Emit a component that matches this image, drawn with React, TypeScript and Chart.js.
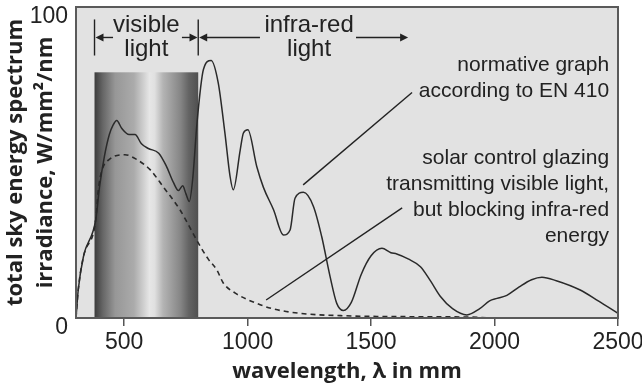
import React, { useEffect, useRef } from 'react';
import { Chart, registerables } from 'chart.js';

Chart.register(...registerables);

// ---- data ----
const WAVELENGTH_STANDARD = [305, 314, 335, 385, 400, 420, 440, 455, 470, 490, 520, 544, 570, 598, 640, 670, 700, 720, 737, 750, 764, 778, 795, 821, 852, 881, 908, 929, 942, 970, 983, 1001, 1037, 1064, 1105, 1145, 1172, 1192, 1226, 1267, 1300, 1334, 1361, 1388, 1420, 1460, 1500, 1544, 1580, 1604, 1650, 1700, 1740, 1780, 1830, 1888, 1940, 1980, 2010, 2050, 2100, 2150, 2192, 2250, 2347, 2420, 2500];
const IRRADIANCE_STANDARD = [0, 9, 19.7, 31.6, 42, 52, 59, 62, 63.5, 61, 59, 59, 56, 54.5, 53, 49, 43.5, 41, 42.5, 40, 37.5, 45, 62.7, 79.9, 82.8, 75.6, 59.5, 45.5, 41.2, 54, 59.5, 60.5, 48.7, 42, 34.8, 26.7, 28.3, 38.5, 40.4, 35.8, 26.2, 13.3, 4.7, 2.4, 5, 14, 20, 22.4, 21, 20.6, 19, 16.5, 12, 7, 3, 1, 3, 5.5, 6.3, 7.3, 10, 12.3, 13.1, 12, 9, 5.5, 1.5];

const WAVELENGTH_GLAZING = [305, 314, 335, 385, 395, 410, 440, 503, 550, 605, 660, 726, 760, 794, 840, 875, 902, 950, 1037, 1100, 1213, 1400, 1700, 1900, 2000, 2500];
const IRRADIANCE_GLAZING = [0, 9, 19.7, 31.6, 41, 47.5, 51, 52.5, 51, 47.7, 42, 34.8, 30, 25, 19, 15.5, 11.2, 8, 4.7, 3, 1.5, 0.7, 0.4, 0.3, 0, 0];

const X_MIN = 305;
const X_MAX = 2500;
const X_TICKS = [500, 1000, 1500, 2000, 2500];
const Y_TICKS = [0, 100];

const VISIBLE_BAND = [380, 800];
const VISIBLE_BAND_TOP = 79;

const Y_TITLE = ['total sky energy spectrum', 'irradiance, W/mm²/nm'];
const X_TITLE = 'wavelength, λ in mm';

const BAND_LABELS = [
  { text: 'visible', x: 590, y: 92.1 },
  { text: 'light', x: 590, y: 84.1 },
  { text: 'infra-red', x: 1249, y: 92.1 },
  { text: 'light', x: 1249, y: 84.1 },
];
const BAND_BARS = [380, 800];
const BAND_BAR_RANGE = [84.4, 96];
const BAND_ARROW_Y = 90.2;
// [from, to(tip)]
const BAND_ARROWS = [
  [455, 384],
  [734, 797],
  [1050, 804],
  [1439, 1650],
];

const NOTE_X = 2464;
const NOTES = [
  { text: 'normative graph', y: 79.4 },
  { text: 'according to EN 410', y: 71.0 },
  { text: 'solar control glazing', y: 49.6 },
  { text: 'transmitting visible light,', y: 41.2 },
  { text: 'but blocking infra-red', y: 32.9 },
  { text: 'energy', y: 24.5 },
];
const LEADERS = [
  [1666, 72.5, 1225, 42.8],
  [1626, 35.4, 1075, 5.8],
];

const INK = '#222';

const decor = {
  id: 'decor',
  beforeDraw(chart: any) {
    const { ctx, chartArea: a } = chart;
    ctx.save();
    ctx.fillStyle = '#e2e2e2';
    ctx.fillRect(a.left, a.top, a.right - a.left, a.bottom - a.top);
    ctx.restore();
  },
  beforeDatasetsDraw(chart: any) {
    const { ctx } = chart;
    const xs = chart.scales.x;
    const ys = chart.scales.y;
    const x0 = xs.getPixelForValue(VISIBLE_BAND[0]);
    const x1 = xs.getPixelForValue(VISIBLE_BAND[1]);
    const yt = ys.getPixelForValue(VISIBLE_BAND_TOP);
    const yb = ys.getPixelForValue(0);
    const g = ctx.createLinearGradient(x0, 0, x1, 0);
    const stops: [number, string][] = [
      [0, '#3c3c3c'],
      [0.08, '#666'],
      [0.2, '#979797'],
      [0.3, '#a2a2a2'],
      [0.38, '#ababab'],
      [0.46, '#cacaca'],
      [0.53, '#e6e6e6'],
      [0.58, '#e0e0e0'],
      [0.66, '#b4b4b4'],
      [0.74, '#9e9e9e'],
      [0.83, '#858585'],
      [0.91, '#636363'],
      [1, '#505050'],
    ];
    stops.forEach(([o, c]) => g.addColorStop(o, c));
    ctx.save();
    ctx.fillStyle = g;
    ctx.fillRect(x0, yt, x1 - x0, yb - yt);
    ctx.restore();
  },
  afterDatasetsDraw(chart: any) {
    const { ctx, chartArea: a } = chart;
    const xs = chart.scales.x;
    const ys = chart.scales.y;
    const px = (v: number) => xs.getPixelForValue(v);
    const py = (v: number) => ys.getPixelForValue(v);
    ctx.save();
    // plot border
    ctx.strokeStyle = '#5a5a5a';
    ctx.lineWidth = 2;
    ctx.strokeRect(a.left, a.top, a.right - a.left, a.bottom - a.top);

    ctx.strokeStyle = INK;
    ctx.fillStyle = INK;
    ctx.lineWidth = 1.4;
    // band bars
    BAND_BARS.forEach((b) => {
      ctx.beginPath();
      ctx.moveTo(px(b), py(BAND_BAR_RANGE[0]));
      ctx.lineTo(px(b), py(BAND_BAR_RANGE[1]));
      ctx.stroke();
    });
    // arrows
    const ay = py(BAND_ARROW_Y);
    BAND_ARROWS.forEach(([from, tip]) => {
      const fx = px(from);
      const tx = px(tip);
      const dir = tx > fx ? 1 : -1;
      ctx.beginPath();
      ctx.moveTo(fx, ay);
      ctx.lineTo(tx - dir * 6, ay);
      ctx.stroke();
      ctx.beginPath();
      ctx.moveTo(tx, ay);
      ctx.lineTo(tx - dir * 8, ay - 4);
      ctx.lineTo(tx - dir * 8, ay + 4);
      ctx.closePath();
      ctx.fill();
    });
    // band labels
    ctx.font = '24px "Liberation Sans", Arial, sans-serif';
    ctx.textAlign = 'center';
    ctx.textBaseline = 'alphabetic';
    BAND_LABELS.forEach((l) => ctx.fillText(l.text, px(l.x), py(l.y)));
    // notes
    ctx.font = '21px "Liberation Sans", Arial, sans-serif';
    ctx.textAlign = 'right';
    NOTES.forEach((n) => ctx.fillText(n.text, px(NOTE_X), py(n.y)));
    // leader lines
    ctx.lineWidth = 1.4;
    LEADERS.forEach(([x1, y1, x2, y2]) => {
      ctx.beginPath();
      ctx.moveTo(px(x1), py(y1));
      ctx.lineTo(px(x2), py(y2));
      ctx.stroke();
    });
    ctx.restore();
  },
};

export default function App() {
  const ref = useRef<HTMLCanvasElement | null>(null);
  useEffect(() => {
    if (!ref.current) return;
    const chart = new Chart(ref.current, {
      type: 'line',
      data: {
        datasets: [
          {
            label: 'normative graph according to EN 410',
            data: WAVELENGTH_STANDARD.map((w, i) => ({ x: w, y: IRRADIANCE_STANDARD[i] })),
            borderColor: '#2a2a2a',
            borderWidth: 1.5,
            pointRadius: 0,
            cubicInterpolationMode: 'monotone',
            fill: false,
          },
          {
            label: 'solar control glazing',
            data: WAVELENGTH_GLAZING.map((w, i) => ({ x: w, y: IRRADIANCE_GLAZING[i] })),
            borderColor: '#2a2a2a',
            borderWidth: 1.6,
            borderDash: [5, 4],
            pointRadius: 0,
            cubicInterpolationMode: 'monotone',
            fill: false,
          },
        ],
      },
      options: {
        animation: false,
        responsive: false,
        devicePixelRatio: 1,
        layout: { padding: { top: 7, right: 24, left: 0, bottom: 0 } },
        plugins: { legend: { display: false }, tooltip: { enabled: false } },
        scales: {
          x: {
            type: 'linear',
            min: X_MIN,
            max: X_MAX,
            afterBuildTicks: (s: any) => {
              s.ticks = X_TICKS.map((v) => ({ value: v }));
            },
            afterFit: (s: any) => {
              s.height = 69;
              s.paddingLeft = 0;
              s.paddingRight = 0;
              s.paddingTop = 0;
              s.paddingBottom = 0;
            },
            grid: {
              display: true,
              drawOnChartArea: false,
              drawTicks: true,
              tickLength: 8,
              color: '#555',
              lineWidth: 1.5,
            },
            border: { display: false },
            ticks: {
              color: INK,
              font: { family: '"Liberation Sans", Arial, sans-serif', size: 23 },
              padding: 3,
              maxRotation: 0,
              autoSkip: false,
              callback: (v: any) => String(v),
            },
            title: {
              display: true,
              text: X_TITLE,
              color: INK,
              font: { family: '"Open Sans", sans-serif', size: 22, weight: 'bold', lineHeight: 1.2 },
              padding: { top: 0, bottom: 2 },
            },
          },
          y: {
            min: 0,
            max: 100,
            afterBuildTicks: (s: any) => {
              s.ticks = Y_TICKS.map((v) => ({ value: v }));
            },
            afterFit: (s: any) => {
              s.width = 76;
              s.paddingLeft = 0;
              s.paddingRight = 0;
              s.paddingTop = 0;
              s.paddingBottom = 0;
            },
            grid: { display: false, drawTicks: false },
            border: { display: false },
            ticks: {
              color: INK,
              font: { family: '"Liberation Sans", Arial, sans-serif', size: 23 },
              padding: 8,
              labelOffset: 10,
              callback: (v: any) => String(v),
            },
            title: {
              display: true,
              text: Y_TITLE,
              color: INK,
              font: { family: '"Open Sans", sans-serif', size: 22, weight: 'bold', lineHeight: 1.35 },
              padding: { top: 1, bottom: 0 },
            },
          },
        },
      },
      plugins: [decor],
    } as any);
    return () => chart.destroy();
  }, []);

  return (
    <div style={{ position: 'fixed', left: 0, top: 0, width: 642, height: 387, background: '#fff' }}>
      <canvas ref={ref} width={642} height={387} />
    </div>
  );
}
